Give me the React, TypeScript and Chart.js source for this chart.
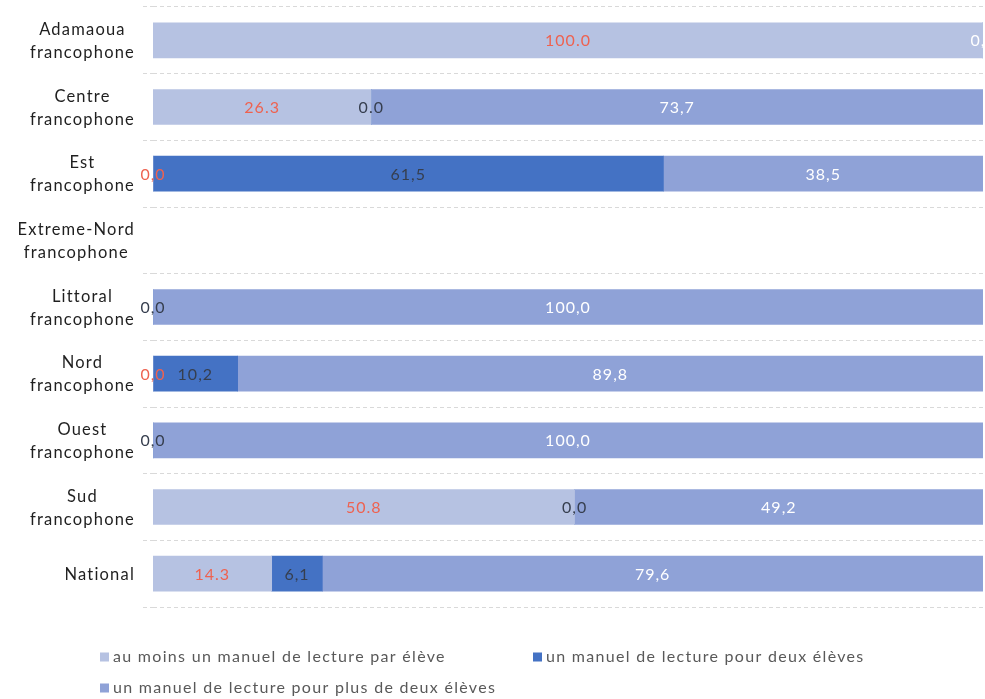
import React, { useEffect, useRef } from "react";
import { Chart, registerables } from "chart.js";
Chart.register(...registerables);

const categories: string[][] = [
  ["Adamaoua", "francophone"],
  ["Centre", "francophone"],
  ["Est", "francophone"],
  ["Extreme-Nord", "francophone"],
  ["Littoral", "francophone"],
  ["Nord", "francophone"],
  ["Ouest", "francophone"],
  ["Sud", "francophone"],
  ["National"],
];

const seriesNames = [
  "au moins un manuel de lecture par élève",
  "un manuel de lecture pour deux élèves",
  "un manuel de lecture pour plus de deux élèves",
];

const parEleve = [100, 26.3, 0, null, 0, 0, 0, 50.8, 14.3];
const pourDeux = [0, 0, 61.5, null, 0, 10.2, 0, 0, 6.1];
const plusDeDeux = [0, 73.7, 38.5, null, 100, 89.8, 100, 49.2, 79.6];

const parEleveLabels = ["100.0", "26.3", "0,0", "", "", "0,0", "", "50.8", "14.3"];
const pourDeuxLabels = ["", "0.0", "61,5", "", "0,0", "10,2", "0,0", "0,0", "6,1"];
const plusDeDeuxLabels = ["0,0", "73,7", "38,5", "", "100,0", "89,8", "100,0", "49,2", "79,6"];

const seriesColors = ["#B6C2E2", "#4472C4", "#8FA2D7"];
const labelColors = ["#EE6250", "#363E4E", "#FFFFFF"];
const labelSets = [parEleveLabels, pourDeuxLabels, plusDeDeuxLabels];

const FONT = "Lato, 'DejaVu Sans', sans-serif";

const customDraw = {
  id: "customDraw",
  afterDatasetsDraw(chart: any) {
    const ctx = chart.ctx;
    ctx.save();
    // bar value labels
    ctx.font = `16px ${FONT}`;
    ctx.letterSpacing = "1px";
    ctx.textAlign = "center";
    ctx.textBaseline = "middle";
    chart.data.datasets.forEach((ds: any, di: number) => {
      const meta = chart.getDatasetMeta(di);
      meta.data.forEach((bar: any, i: number) => {
        const txt = labelSets[di][i];
        if (!txt) return;
        const p = bar.getProps(["x", "base", "y"], true);
        if (!isFinite(p.x) || !isFinite(p.base)) return;
        ctx.fillStyle = labelColors[di];
        ctx.fillText(txt, (p.x + p.base) / 2, p.y + 1);
      });
    });

    // category labels (lines centred, block right-aligned)
    const ys = chart.scales.y;
    ctx.font = `16.5px ${FONT}`;
    ctx.letterSpacing = "1.2px";
    ctx.fillStyle = "#1F1F1F";
    ctx.textAlign = "center";
    ctx.textBaseline = "alphabetic";
    categories.forEach((lines, i) => {
      const cy = ys.getPixelForValue(i);
      const w = Math.max(...lines.map((l) => ctx.measureText(l).width));
      const cx = 135 - w / 2;
      lines.forEach((l, j) => {
        const by = cy + 6 + (j - (lines.length - 1) / 2) * 23;
        ctx.fillText(l, cx, by);
      });
    });

    // legend
    const items = [
      { x: 100, y: 657 },
      { x: 533, y: 657 },
      { x: 100, y: 688 },
    ];
    ctx.font = `16px ${FONT}`;
    ctx.letterSpacing = "1.3px";
    ctx.textAlign = "left";
    ctx.textBaseline = "middle";
    items.forEach((it, k) => {
      ctx.fillStyle = seriesColors[k];
      ctx.fillRect(it.x, it.y - 4.5, 9, 9);
      ctx.fillStyle = "#595959";
      ctx.fillText(seriesNames[k], it.x + 13, it.y);
    });
    ctx.restore();
  },
};

export default function App() {
  const ref = useRef<HTMLCanvasElement>(null);
  useEffect(() => {
    if (!ref.current) return;
    const chart = new Chart(ref.current, {
      type: "bar",
      data: {
        labels: categories.map((c) => c.join(" ")),
        datasets: [parEleve, pourDeux, plusDeDeux].map((d, k) => ({
          label: seriesNames[k],
          data: d as any,
          backgroundColor: seriesColors[k],
          borderWidth: 0,
          barThickness: 35,
        })),
      },
      options: {
        indexAxis: "y",
        animation: false,
        responsive: false,
        layout: { padding: { top: 7, bottom: 92, left: 0, right: 2 } },
        plugins: { legend: { display: false }, tooltip: { enabled: false } },
        scales: {
          x: { stacked: true, min: 0, max: 100, display: false },
          y: {
            stacked: true,
            grid: {
              color: "#D9D9D9",
              drawTicks: true,
              tickLength: 10,
              tickBorderDash: [4, 3],
              offset: true,
            },
            border: { display: false, dash: [4, 3] },
            ticks: { display: false },
            afterFit: (s: any) => {
              s.width = 153;
            },
          },
        },
      },
      plugins: [customDraw],
    });
    return () => chart.destroy();
  }, []);
  return (
    <div style={{ position: "absolute", left: 0, top: 0, width: 985, height: 699 }}>
      <canvas ref={ref} width={985} height={699} style={{ display: "block" }} />
    </div>
  );
}
